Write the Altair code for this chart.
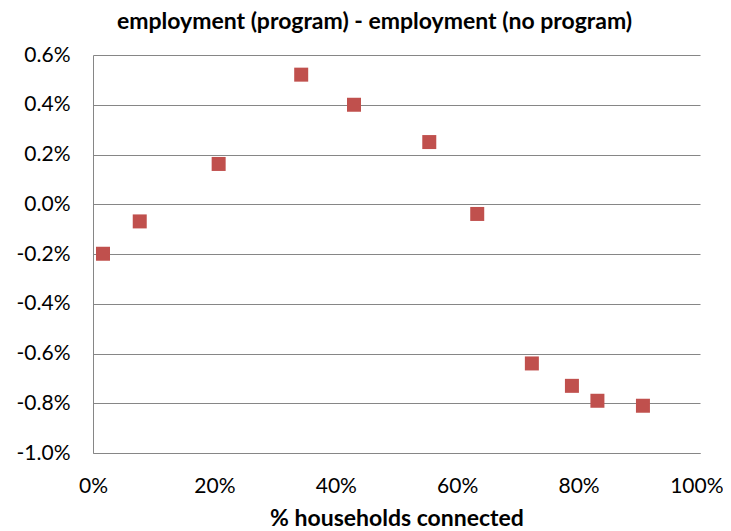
import altair as alt
import pandas as pd

connected = [1.65, 7.7, 20.7, 34.3, 43.0, 55.4, 63.3, 72.3, 78.9, 83.1, 90.6]
difference = [-0.199, -0.069, 0.162, 0.521, 0.40, 0.25, -0.039, -0.64, -0.73, -0.79, -0.81]

df = pd.DataFrame({"x": [v / 100 for v in connected], "y": [v / 100 for v in difference]})

FONT = "Lato"
GRID = "#868686"
FIX_MINUS = "replace(datum.label, '\u2212', '-')"

chart = alt.Chart(df).mark_point(
    shape="square", filled=True, size=196, color="#C0504D", opacity=1
).encode(
    x=alt.X("x:Q", title="% households connected",
            scale=alt.Scale(domain=[0, 1], nice=False, zero=False),
            axis=alt.Axis(format=".0%", values=[0, 0.2, 0.4, 0.6, 0.8, 1.0], grid=False,
                          ticks=False, domainColor=GRID, labelPadding=39,
                          labelBaseline="alphabetic", titlePadding=11,
                          labelAlign=alt.condition("datum.value >= 1", alt.value("right"), alt.value("center")),
                          labelOffset=alt.condition("datum.value >= 1", alt.value(23), alt.value(0)),
                          labelFontSize=21, titleFontSize=23, titleFontWeight="bold",
                          labelFont=FONT, titleFont=FONT, labelColor="#000", titleColor="#000",
                          labelFlush=False, labelOverlap=False)),
    y=alt.Y("y:Q", title=None,
            scale=alt.Scale(domain=[-0.01, 0.006], nice=False, zero=False),
            axis=alt.Axis(format=".1%", values=[-0.01, -0.008, -0.006, -0.004, -0.002, 0, 0.002, 0.004, 0.006],
                          labelExpr=FIX_MINUS,
                          grid=True, gridColor=GRID, ticks=False, domainColor=GRID,
                          labelPadding=23, labelFontSize=21, labelFont=FONT, labelColor="#000"))
).properties(
    width=607, height=398,
    title=alt.TitleParams("employment (program) - employment (no program)", font=FONT,
                          fontSize=23, fontWeight="bold", color="#000", anchor="middle",
                          dx=-22, offset=10),
    autosize=alt.AutoSizeParams(type="none"),
    padding={"left": 85, "top": 47, "right": 23, "bottom": 78},
).configure_view(stroke=None)

chart.save("out.html", embed_options={"renderer": "svg", "actions": False})
